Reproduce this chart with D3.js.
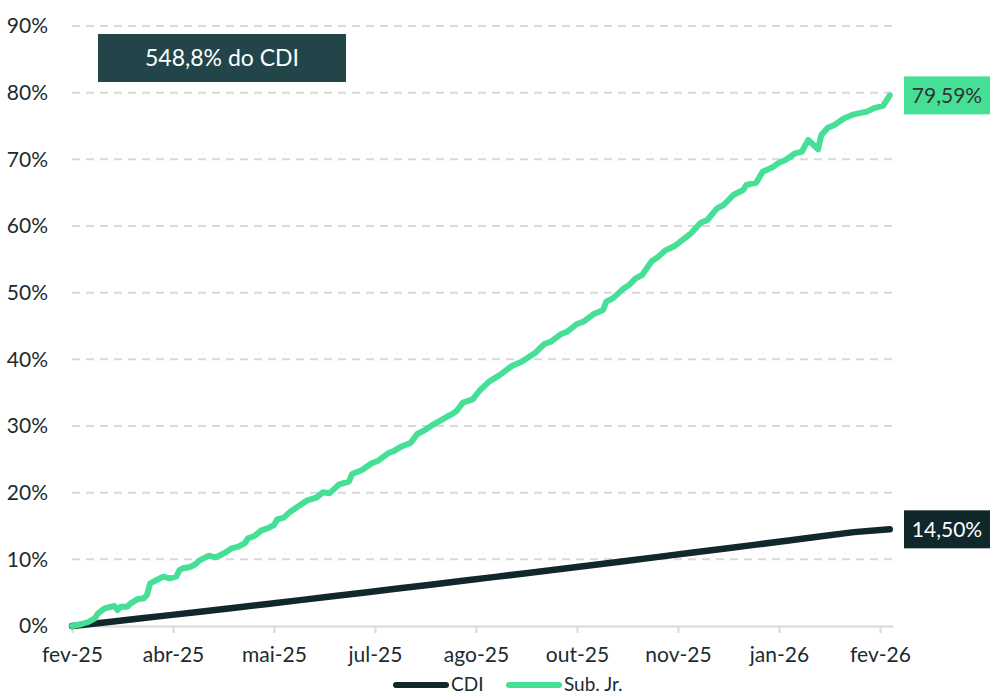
<!DOCTYPE html>
<html>
<head>
<meta charset="utf-8">
<script src="https://cdn.jsdelivr.net/npm/d3@7"></script>
<style>
  body { margin: 0; background: #fff; }
  svg { display: block; font-family: Lato, "Open Sans", sans-serif; }
</style>
</head>
<body>
<div id="chart"></div>
<script>
var svgWidth = 990;
var svgHeight = 696;

// business-day index of each label on the category axis
var tickDays = [0, 31, 62, 93, 124, 155, 186, 217, 248];
var tickLabels = ["fev-25", "abr-25", "mai-25", "jul-25", "ago-25", "out-25", "nov-25", "jan-26", "fev-26"];
var yTicks = [0, 10, 20, 30, 40, 50, 60, 70, 80, 90];

// Sub. Jr. cumulative return (%)
var subDays = [0, 3, 5, 7, 8, 10, 13, 14, 15, 17, 18, 20, 22, 23, 24, 26, 28, 30, 32, 33,
  34, 36, 38, 39, 41, 42, 44, 45, 47, 49, 51, 53, 54, 56, 58, 60, 62, 63, 65, 67,
  69, 72, 75, 77, 79, 82, 85, 86, 89, 92, 94, 97, 99, 101, 104, 106, 108, 111, 113, 117,
  118, 120, 123, 125, 128, 131, 132, 135, 138, 142, 145, 147, 150, 152, 155, 157, 160, 163, 164, 166,
  169, 171, 173, 175, 178, 180, 182, 185, 188, 190, 193, 195, 198, 200, 203, 206, 207, 210, 212, 215,
  217, 219, 222, 224, 226, 229, 230, 232, 234, 237, 240, 244, 246, 249, 251];
var subJr = [0, 0.3, 0.6, 1.15, 1.9, 2.65, 3.0, 2.4, 2.9, 2.9, 3.4, 4.0, 4.15, 4.65, 6.4, 6.9, 7.4, 7.15, 7.4, 8.4,
  8.65, 8.8, 9.3, 9.8, 10.3, 10.55, 10.3, 10.5, 11.0, 11.65, 11.9, 12.4, 13.15, 13.5, 14.3, 14.65, 15.15, 16.0, 16.25, 17.15,
  17.8, 18.8, 19.25, 20.05, 19.9, 21.25, 21.65, 22.8, 23.4, 24.4, 24.8, 25.9, 26.3, 26.9, 27.5, 28.8, 29.3, 30.25, 30.8, 31.9,
  32.25, 33.5, 34.0, 35.25, 36.65, 37.55, 37.9, 39.0, 39.65, 40.9, 42.3, 42.65, 43.75, 44.15, 45.3, 45.65, 46.75, 47.4, 48.65, 49.15,
  50.5, 51.15, 52.15, 52.65, 54.75, 55.4, 56.3, 57.0, 58.15, 58.9, 60.5, 60.9, 62.65, 63.15, 64.65, 65.4, 66.15, 66.5, 68.15, 68.8,
  69.5, 69.9, 70.9, 71.15, 72.9, 71.5, 73.65, 74.75, 75.15, 76.15, 76.75, 77.15, 77.65, 78.05, 79.59];

// CDI cumulative return (%)
var cdiDays = [0, 10, 20, 30, 40, 50, 60, 70, 80, 90, 100, 110, 120, 130, 140, 150, 160, 170, 180, 190, 200, 210, 220, 230, 240, 251];
var cdi = [0, 0.53, 1.08, 1.63, 2.19, 2.75, 3.31, 3.88, 4.45, 5.03, 5.61, 6.19, 6.78, 7.37, 7.96, 8.56, 9.16, 9.76, 10.37, 10.98, 11.59, 12.21, 12.83, 13.45, 14.08, 14.50];

var seriesNames = ["CDI", "Sub. Jr."];
var seriesColors = ["#10272b", "#45e096"];
var boxText = "548,8% do CDI";

var x = d3.scaleLinear().domain([0, 252]).range([72, 893]);
var y = d3.scaleLinear().domain([0, 90]).range([626, 26]);

var svg = d3.select("#chart")
    .append("svg")
    .attr("width", svgWidth)
    .attr("height", svgHeight);

// gridlines
svg.append("g")
  .selectAll("line")
  .data(yTicks.filter(function(d) { return d > 0; }))
  .enter()
  .append("line")
  .attr("x1", x(0))
  .attr("x2", x(252))
  .attr("y1", function(d) { return y(d); })
  .attr("y2", function(d) { return y(d); })
  .attr("stroke", "#d9d9d9")
  .attr("stroke-width", 2)
  .attr("stroke-dasharray", "8,6");

// y axis labels
var yAxis = d3.axisLeft(y)
  .tickValues(yTicks)
  .tickFormat(function(d) { return d + "%"; })
  .tickSize(0)
  .tickPadding(0);
var yG = svg.append("g")
  .attr("transform", "translate(48,0)")
  .call(yAxis);
yG.select(".domain").remove();
yG.selectAll("text")
  .attr("font-family", "Lato, sans-serif")
  .attr("font-size", "21px")
  .attr("fill", "#1c2b30");

// x axis
var xAxis = d3.axisBottom(x)
  .tickValues(tickDays)
  .tickFormat(function(d, i) { return tickLabels[i]; })
  .tickSize(7)
  .tickPadding(14)
  .tickSizeOuter(0);
var xG = svg.append("g")
  .attr("transform", "translate(0," + y(0) + ")")
  .call(xAxis);
xG.select(".domain").attr("stroke", "#d9d9d9").attr("stroke-width", 2);
xG.selectAll(".tick line").attr("stroke", "#d9d9d9").attr("stroke-width", 2);
xG.selectAll("text")
  .attr("font-family", "Lato, sans-serif")
  .attr("font-size", "21px")
  .attr("fill", "#1c2b30");

// lines
var line = d3.line()
  .x(function(d) { return x(d[0]); })
  .y(function(d) { return y(d[1]); });

svg.append("path")
  .datum(d3.zip(cdiDays, cdi))
  .attr("d", line)
  .attr("fill", "none")
  .attr("stroke", seriesColors[0])
  .attr("stroke-width", 6.5)
  .attr("stroke-linecap", "round");

svg.append("path")
  .datum(d3.zip(subDays, subJr))
  .attr("d", line)
  .attr("fill", "none")
  .attr("stroke", seriesColors[1])
  .attr("stroke-width", 6)
  .attr("stroke-linejoin", "round")
  .attr("stroke-linecap", "round");

// end labels
var endLabels = [
  { v: subJr[subJr.length - 1], fill: seriesColors[1], text: "#333333" },
  { v: cdi[cdi.length - 1], fill: seriesColors[0], text: "#ffffff" }
];
endLabels.forEach(function(l) {
  var cy = y(l.v);
  svg.append("rect")
    .attr("x", 904)
    .attr("y", cy - 19)
    .attr("width", 90)
    .attr("height", 38)
    .attr("fill", l.fill);
  svg.append("text")
    .attr("x", 947)
    .attr("y", cy)
    .attr("dy", "0.35em")
    .attr("text-anchor", "middle")
    .attr("font-size", "21px")
    .attr("fill", l.text)
    .text(d3.format(".2f")(l.v).replace(".", ",") + "%");
});

// callout box
svg.append("rect")
  .attr("x", 98)
  .attr("y", 34)
  .attr("width", 248)
  .attr("height", 48)
  .attr("fill", "#214549");
svg.append("text")
  .attr("x", 222)
  .attr("y", 58)
  .attr("dy", "0.35em")
  .attr("text-anchor", "middle")
  .attr("font-size", "23px")
  .attr("fill", "#ffffff")
  .text(boxText);

// legend
var legendX = [393, 506];
seriesNames.forEach(function(name, i) {
  svg.append("line")
    .attr("x1", legendX[i] + 3)
    .attr("x2", legendX[i] + 53)
    .attr("y1", 685)
    .attr("y2", 685)
    .attr("stroke", seriesColors[i])
    .attr("stroke-width", 6)
    .attr("stroke-linecap", "round");
  svg.append("text")
    .attr("x", legendX[i] + 58)
    .attr("y", 684)
    .attr("dy", "0.35em")
    .attr("font-size", "19px")
    .attr("fill", "#1c2b30")
    .text(name);
});
</script>
</body>
</html>
